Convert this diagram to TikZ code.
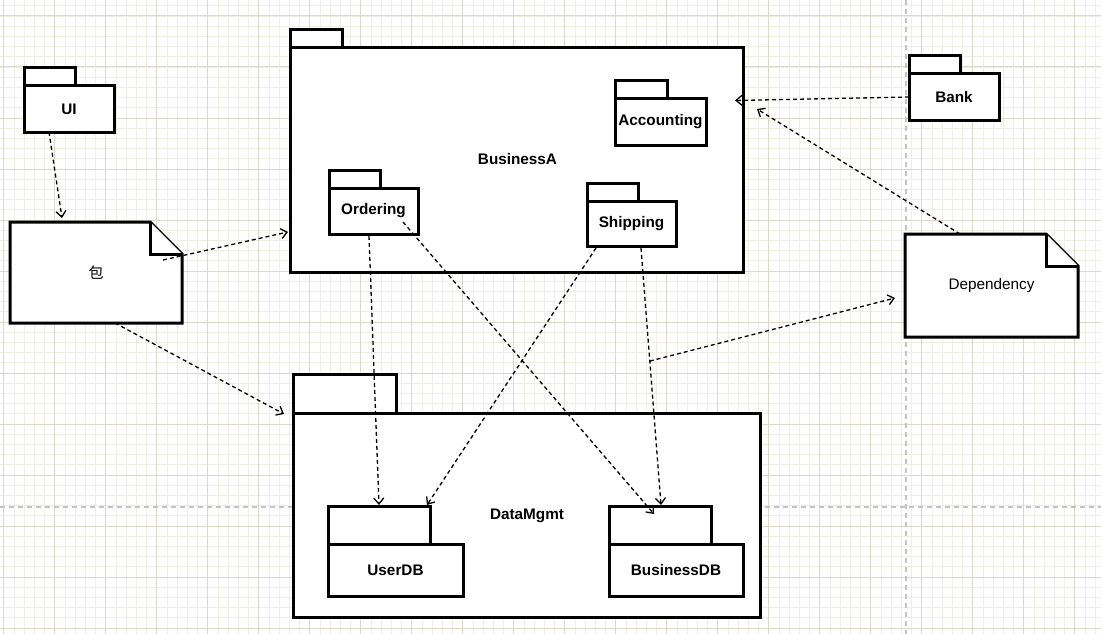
\documentclass[tikz,border=0pt]{standalone}
\usepackage{fontspec}
\setmainfont{Liberation Sans}
\newfontfamily\cjk{Noto Sans CJK SC}
\usetikzlibrary{arrows.meta,calc}
\definecolor{gridminor}{RGB}{238,238,230}
\definecolor{gridmajor}{RGB}{218,216,200}
\definecolor{pagebrk}{RGB}{195,195,195}
\tikzset{
  pkgbody/.style={draw=black,fill=white,line width=3pt,rectangle,inner sep=0pt,outer sep=0pt,font=\fontsize{15.3}{18}\selectfont\bfseries},
  pkgtab/.style={draw=black,fill=white,line width=3pt},
  notebox/.style={rectangle,inner sep=0pt,outer sep=0pt,font=\fontsize{15.3}{18}\selectfont},
  noteline/.style={draw=black,fill=white,line width=3pt,line join=miter},
  dep/.style={line width=1.3pt,dash pattern=on 4pt off 3pt,-{Straight Barb[length=6pt,width=10pt]}},
  lbl/.style={font=\fontsize{15.3}{18}\selectfont\bfseries,inner sep=0pt}
}
\begin{document}
\begin{tikzpicture}[x=1pt,y=-1pt]
\useasboundingbox (0,0) rectangle (1101,634);
\fill[white] (0,0) rectangle (1101,634);
% grid
\foreach \i in {0,...,107} {\draw[gridminor,line width=0.8pt] ({3.7+10.2*\i},0) -- ({3.7+10.2*\i},634);}
\foreach \i in {0,...,62} {\draw[gridminor,line width=0.8pt] (0,{5.8+10.2*\i}) -- (1101,{5.8+10.2*\i});}
\foreach \i in {0,...,21} {\draw[gridmajor,line width=1pt] ({3.7+51*\i},0) -- ({3.7+51*\i},634);}
\foreach \i in {0,...,12} {\draw[gridmajor,line width=1pt] (0,{16+51*\i}) -- (1101,{16+51*\i});}
% page breaks
\draw[pagebrk,line width=1.2pt,dash pattern=on 5pt off 4pt] (906,0) -- (906,634);
\draw[pagebrk,line width=1.2pt,dash pattern=on 5pt off 4pt] (0,507) -- (1101,507);

% UI
\draw[pkgtab] (24,68) rectangle (75,86);
\node[pkgbody,minimum width=90pt,minimum height=46pt] (ui) at (69,109) {UI};
% BusinessA
\draw[pkgtab] (290,30) rectangle (342,48);
\node[pkgbody,minimum width=453pt,minimum height=224pt] (ba) at (516.5,160) {};
\node[lbl] (baL) at (517.5,159) {BusinessA};
% Accounting
\draw[pkgtab] (615,81) rectangle (667,99);
\node[pkgbody,minimum width=91pt,minimum height=46pt] (acc) at (660.5,122) {Accounting};
% Ordering
\draw[pkgtab] (329,170) rectangle (380,188);
\node[pkgbody,minimum width=89pt,minimum height=46pt] (ord) at (373.5,211) {Ordering};
% Shipping
\draw[pkgtab] (587,183) rectangle (638,201);
\node[pkgbody,minimum width=89pt,minimum height=45pt] (shp) at (631.5,223.5) {Shipping};
% Bank
\draw[pkgtab] (909,56) rectangle (960,74);
\node[pkgbody,minimum width=90pt,minimum height=46pt] (bank) at (954,97) {Bank};
% DataMgmt
\draw[pkgtab] (293,374) rectangle (396,413);
\node[pkgbody,minimum width=467pt,minimum height=204pt] (dm) at (526.5,515) {};
\node[lbl] (dmL) at (527,516) {DataMgmt};
% UserDB
\draw[pkgtab] (328,506) rectangle (430,544);
\node[pkgbody,minimum width=135pt,minimum height=52pt] (udb) at (395.5,570) {UserDB};
% BusinessDB
\draw[pkgtab] (609,506) rectangle (711,544);
\node[pkgbody,minimum width=134pt,minimum height=52pt] (bdb) at (676,570) {BusinessDB};

% Note 包
\node[notebox,minimum width=172pt,minimum height=101pt] (note) at (96,272.5) {};
\draw[noteline] (note.north west) -- ([xshift=-32]note.north east) -- ([yshift=-32]note.north east) -- (note.south east) -- (note.south west) -- cycle;
\draw[noteline] ([xshift=-32]note.north east) -- ([xshift=-32,yshift=-32]note.north east) -- ([yshift=-32]note.north east);
\node[notebox] (noteL) at (note.center) {\cjk\fontsize{15}{18}\selectfont 包};
% Note Dependency
\node[notebox,minimum width=173pt,minimum height=103pt] (depn) at (991.5,285.5) {};
\draw[noteline] (depn.north west) -- ([xshift=-32]depn.north east) -- ([yshift=-32]depn.north east) -- (depn.south east) -- (depn.south west) -- cycle;
\draw[noteline] ([xshift=-32]depn.north east) -- ([xshift=-32,yshift=-32]depn.north east) -- ([yshift=-32]depn.north east);
\node[notebox] (depL) at (depn.center) {Dependency};

% connectors
\draw[dep] ([xshift=-20]ui.south) -- ([xshift=-34,yshift=4]note.north);
\draw[dep] ([xshift=67,yshift=12.5]note.center) -- ([xshift=-2,yshift=-72]ba.west);
\draw[dep] ([xshift=19]note.south) -- ([xshift=-9,yshift=-1]dm.north west);
\draw[dep] (bank.west) -- ([xshift=-8,yshift=59.5]ba.east);
\draw[dep] ([xshift=-31.5]depn.north) -- ([xshift=14,yshift=51]ba.east);
\draw[dep] ([xshift=-4.5,yshift=-2]ord.south) -- ([xshift=51,yshift=39]udb.north west);
\draw[dep] ([xshift=-15,yshift=-11]ord.east) -- ([xshift=45,yshift=30]bdb.north west);
\draw[dep] ([xshift=-35.5,yshift=-2]shp.south) -- ([xshift=99,yshift=39]udb.north west);
\draw[dep] ([xshift=9.5,yshift=-2]shp.south) -- coordinate[pos=0.44] (mid) ([xshift=52,yshift=39]bdb.north west);
\draw[dep] (mid) -- ([xshift=-10,yshift=-12.5]depn.west);
\end{tikzpicture}
\end{document}
